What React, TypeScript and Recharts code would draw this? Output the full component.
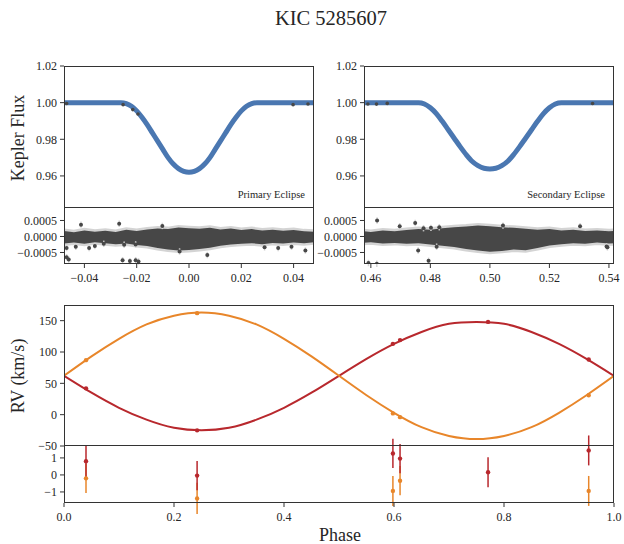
import React from 'react';
import { Area, ComposedChart, ErrorBar, Line, Scatter, XAxis, YAxis } from 'recharts';

const FONT = '"Liberation Serif", "DejaVu Serif", serif';
const INK = '#262626';
const BLUE = '#4a77b1';
const DARK = '#474747';
const HALO = '#d4d4d4';
const RED = '#b8282d';
const ORANGE = '#e8862a';

// primary eclipse model
const primaryPhase = [
  -0.048, -0.026, -0.024, -0.022, -0.02, -0.018, -0.016, -0.014, -0.012, -0.01, -0.008, -0.006, -0.004,
  -0.002, 0, 0.002, 0.004, 0.006, 0.008, 0.01, 0.012, 0.014, 0.016, 0.018, 0.02, 0.022, 0.024, 0.026, 0.048,
];
const primaryFlux = [
  1.0, 1.0, 0.9995, 0.998, 0.9955, 0.992, 0.988, 0.9835, 0.979, 0.9745, 0.97, 0.9665, 0.964, 0.9625, 0.962,
  0.9625, 0.964, 0.9665, 0.97, 0.9745, 0.979, 0.9835, 0.988, 0.992, 0.9955, 0.998, 0.9995, 1.0, 1.0,
];
const primaryObsPhase = [-0.0468, -0.0252, -0.0215, -0.0195, 0.0398, 0.0455];
const primaryObsFlux = [0.9995, 0.9989, 0.9962, 0.9938, 0.9989, 0.9993];

// secondary eclipse model
const secondaryPhase = [
  0.4576, 0.476, 0.478, 0.48, 0.482, 0.484, 0.486, 0.488, 0.49, 0.492, 0.494, 0.496, 0.498, 0.5, 0.502, 0.504,
  0.506, 0.508, 0.51, 0.512, 0.514, 0.516, 0.518, 0.52, 0.522, 0.524, 0.5417,
];
const secondaryFlux = [
  1.0, 1.0, 0.9993, 0.9972, 0.994, 0.9898, 0.9852, 0.9806, 0.976, 0.9717, 0.968, 0.9656, 0.9642, 0.9638, 0.9642,
  0.9656, 0.968, 0.9717, 0.976, 0.9806, 0.9852, 0.9898, 0.994, 0.9972, 0.9993, 1.0, 1.0,
];
const secondaryObsPhase = [0.459, 0.4619, 0.4655, 0.5345];
const secondaryObsFlux = [0.9993, 0.9992, 0.9996, 0.9995];

// residual band (bulk of the Kepler residuals)
const primaryBandPhase = [
  -0.048, -0.044, -0.04, -0.036, -0.032, -0.028, -0.024, -0.02, -0.016, -0.012, -0.008, -0.004, 0, 0.004, 0.008,
  0.012, 0.016, 0.02, 0.024, 0.028, 0.032, 0.036, 0.04, 0.044, 0.048,
];
const primaryBandHi = [
  0.00017, 0.00013, 0.00019, 0.00015, 0.00018, 0.00014, 0.00021, 0.00017, 0.00022, 0.00025, 0.00023, 0.00028,
  0.00026, 0.00024, 0.00027, 0.00022, 0.00025, 0.0002, 0.00023, 0.00019, 0.00021, 0.00018, 0.0002, 0.00016,
  0.00015,
];
const primaryBandLo = [
  -0.00022, -0.00019, -0.00023, -0.00018, -0.00021, -0.00024, -0.00022, -0.00027, -0.0003, -0.00036, -0.00041,
  -0.00044, -0.00042, -0.00039, -0.00035, -0.00029, -0.00025, -0.00023, -0.00021, -0.00024, -0.0002, -0.00022,
  -0.00019, -0.00021, -0.00018,
];
const secondaryBandPhase = [
  0.456, 0.46, 0.464, 0.468, 0.472, 0.476, 0.48, 0.484, 0.488, 0.492, 0.496, 0.5, 0.504, 0.508, 0.512, 0.516,
  0.52, 0.524, 0.528, 0.532, 0.536, 0.54, 0.544,
];
const secondaryBandHi = [
  0.00018, 0.00014, 0.00019, 0.00016, 0.0002, 0.00023, 0.00021, 0.00026, 0.00029, 0.00031, 0.00034, 0.00032,
  0.00029, 0.00027, 0.00024, 0.00021, 0.00023, 0.00019, 0.00021, 0.00017, 0.00019, 0.00016, 0.00018,
];
const secondaryBandLo = [
  -0.00021, -0.00018, -0.00022, -0.0002, -0.00023, -0.00021, -0.00025, -0.00029, -0.00033, -0.00039, -0.00044,
  -0.00048, -0.00045, -0.00041, -0.00043, -0.00036, -0.00028, -0.00024, -0.00021, -0.00023, -0.00019, -0.00022,
  -0.0002,
];

// residual outliers: [phase, residual, error]
const primaryOutliers = [
  [-0.0413, 0.00037, 0.0001], [-0.0267, 0.0004, 0.0001], [-0.0102, 0.00033, 0.0001], [-0.0468, -0.00036, 0.0001],
  [-0.046, -0.00072, 0.0001], [-0.0468, -0.00065, 0.0001], [-0.0433, -0.00032, 0.0001], [-0.0382, -0.00036, 0.0001],
  [-0.036, -0.0003, 0.0001], [-0.0326, -0.00023, 0.0001], [-0.0254, -0.00074, 0.0001], [-0.0248, -0.00026, 0.0001],
  [-0.0226, -0.00077, 0.0001], [-0.0204, -0.00074, 0.0001], [-0.0193, -0.00078, 0.0001], [-0.0204, -0.00025, 0.0001],
  [-0.0036, -0.00047, 0.0001], [0.007, -0.00058, 0.0001], [0.0289, -0.00034, 0.0001], [0.0341, -0.00036, 0.0001],
  [0.0392, -0.00032, 0.0001], [0.0445, -0.00044, 0.0001],
];
const secondaryOutliers = [
  [0.4621, 0.0005, 0.0001], [0.4697, 0.00032, 0.0001], [0.4749, 0.00042, 0.0001], [0.4777, 0.00026, 0.0001],
  [0.4802, 0.00027, 0.0001], [0.483, 0.00029, 0.0001], [0.4759, -0.00044, 0.0001], [0.4794, -0.00076, 0.0001],
  [0.4821, -0.00032, 0.0001], [0.4592, -0.00083, 0.0001], [0.462, -0.00085, 0.0001], [0.5044, 0.00034, 0.0001],
  [0.5303, 0.00032, 0.0001], [0.5395, -0.00034, 0.0001], [0.5392, -0.00031, 0.0001],
];

// radial velocity model curves
const rvPhase = [
  0, 0.05, 0.1, 0.15, 0.2, 0.25, 0.3, 0.35, 0.4, 0.45, 0.5, 0.55, 0.6, 0.65, 0.7, 0.75, 0.8, 0.85, 0.9, 0.95, 1.0,
];
const rvPrimaryModel = [62, 35, 11, -8, -21, -25, -21, -8, 11, 35, 62, 89, 113, 132, 145, 148, 145, 132, 113, 89, 62];
const rvSecondaryModel = [62, 93, 121, 144, 158, 163, 158, 144, 121, 93, 62, 31, 3, -20, -34, -39, -34, -20, 3, 31, 62];

// RV measurements
const rvPrimaryObsPhase = [0.04, 0.242, 0.598, 0.611, 0.771, 0.954];
const rvPrimaryObs = [42, -25, 113, 119, 148, 88];
const rvPrimaryRes = [0.8, -0.04, 1.26, 0.96, 0.16, 1.44];
const rvPrimaryErr = [0.9, 0.86, 0.86, 0.86, 0.88, 0.88];
const rvSecondaryObsPhase = [0.04, 0.242, 0.598, 0.611, 0.954];
const rvSecondaryObs = [87, 162, 2, -4, 31];
const rvSecondaryRes = [-0.2, -1.38, -0.94, -0.34, -0.94];
const rvSecondaryErr = [0.86, 0.92, 0.88, 0.86, 0.88];

const primaryModel = primaryPhase.map((phase, i) => ({ phase, flux: primaryFlux[i] }));
const primaryObs = primaryObsPhase.map((phase, i) => ({ phase, flux: primaryObsFlux[i] }));
const secondaryModel = secondaryPhase.map((phase, i) => ({ phase, flux: secondaryFlux[i] }));
const secondaryObs = secondaryObsPhase.map((phase, i) => ({ phase, flux: secondaryObsFlux[i] }));
const primaryBand = primaryBandPhase.map((phase, i) => ({ phase, band: [primaryBandLo[i], primaryBandHi[i]] }));
const secondaryBand = secondaryBandPhase.map((phase, i) => ({ phase, band: [secondaryBandLo[i], secondaryBandHi[i]] }));
const toPts = (rows: number[][]) => rows.map(([phase, res, err]) => ({ phase, res, err }));
const rvModel = rvPhase.map((phase, i) => ({ phase, p: rvPrimaryModel[i], s: rvSecondaryModel[i] }));
const rvP = rvPrimaryObsPhase.map((phase, i) => ({ phase, v: rvPrimaryObs[i], res: rvPrimaryRes[i], err: rvPrimaryErr[i] }));
const rvS = rvSecondaryObsPhase.map((phase, i) => ({ phase, v: rvSecondaryObs[i], res: rvSecondaryRes[i], err: rvSecondaryErr[i] }));

type Box = { x: number; y: number; w: number; h: number };
const Y_W = 64;
const TOP = 12;
const RIGHT = 8;
const BOTTOM = 10;

const tickStyle = { fill: INK, fontSize: 12, fontFamily: FONT };
const signed = (d: number) => (v: number) => (v < 0 ? '\u2212' : '') + Math.abs(v).toFixed(d);

const dot = (color: string, r: number) => (p: any) => <circle cx={p.cx} cy={p.cy} r={r} fill={color} />;

// each panel is its own chart, placed so that its plot area sits on `box`
function Panel({ box, xH = 0, children }: { box: Box; xH?: number; children: React.ReactNode }) {
  return (
    <div style={{ position: 'absolute', left: box.x - Y_W, top: box.y - TOP }}>
      <ComposedChart
        width={Y_W + box.w + RIGHT}
        height={TOP + box.h + xH + BOTTOM}
        margin={{ top: TOP, right: RIGHT, left: 0, bottom: BOTTOM }}
      >
        {children}
      </ComposedChart>
    </div>
  );
}

function Border({ box, noTop }: { box: Box; noTop?: boolean }) {
  return (
    <div
      style={{
        position: 'absolute',
        left: box.x,
        top: box.y,
        width: box.w,
        height: box.h,
        boxSizing: 'border-box',
        border: '1px solid #333',
        borderTop: noTop ? 'none' : '1px solid #333',
      }}
    />
  );
}

const P1 = { x: 64, y: 66, w: 250, h: 142 };
const P1R = { x: 64, y: 208, w: 250, h: 56 };
const P2 = { x: 364, y: 66, w: 250, h: 142 };
const P2R = { x: 364, y: 208, w: 250, h: 56 };
const RV = { x: 64, y: 305, w: 550, h: 141 };
const RVR = { x: 64, y: 446, w: 550, h: 57 };

const axisProps = {
  tickSize: 4,
  axisLine: false,
  tickLine: { stroke: '#333' },
  tick: tickStyle,
  allowDataOverflow: true,
  interval: 0 as const,
};

function fluxPanel(box: Box, xDomain: number[], model: any[], obs: any[]) {
  return (
    <Panel box={box}>
      <XAxis type="number" dataKey="phase" domain={xDomain} hide allowDataOverflow />
      <YAxis
        type="number"
        width={Y_W}
        domain={[0.9425, 1.02]}
        ticks={[0.96, 0.98, 1.0, 1.02]}
        tickFormatter={(v: number) => v.toFixed(2)}
        tickMargin={3}
        {...axisProps}
      />
      <Scatter data={obs} dataKey="flux" fill={DARK} shape={dot(DARK, 1.8)} isAnimationActive={false} />
      <Line data={model} dataKey="flux" type="monotone" stroke={BLUE} strokeWidth={5} dot={false} isAnimationActive={false} />
    </Panel>
  );
}

function residPanel(box: Box, xDomain: number[], xTicks: number[], band: any[], outliers: any[]) {
  return (
    <Panel box={box} xH={30}>
      <XAxis
        type="number"
        dataKey="phase"
        domain={xDomain}
        ticks={xTicks}
        tickFormatter={signed(2)}
        height={30}
        tickMargin={5}
        {...axisProps}
      />
      <YAxis
        type="number"
        width={Y_W}
        domain={[-0.00086, 0.00089]}
        ticks={[-0.0005, 0, 0.0005]}
        tickFormatter={signed(4)}
        tickMargin={3}
        {...axisProps}
      />
      <Area data={band} dataKey="band" type="linear" stroke={HALO} strokeWidth={5} fill={HALO} isAnimationActive={false} />
      <Area data={band} dataKey="band" type="linear" stroke="none" fill={DARK} fillOpacity={1} isAnimationActive={false} />
      <Scatter data={outliers} dataKey="res" fill={DARK} shape={dot(DARK, 2)} isAnimationActive={false}>
        <ErrorBar dataKey="err" direction="y" width={0} stroke={HALO} strokeWidth={1.5} />
      </Scatter>
    </Panel>
  );
}

export default function App() {
  return (
    <div style={{ position: 'absolute', left: 0, top: 0, width: 624, height: 544, overflow: 'hidden', background: '#fff' }}>
      {fluxPanel(P1, [-0.0478, 0.0478], primaryModel, primaryObs)}
      {fluxPanel(P2, [0.4577, 0.5417], secondaryModel, secondaryObs)}
      {residPanel(P1R, [-0.0478, 0.0478], [-0.04, -0.02, 0, 0.02, 0.04], primaryBand, toPts(primaryOutliers))}
      {residPanel(P2R, [0.4577, 0.5417], [0.46, 0.48, 0.5, 0.52, 0.54], secondaryBand, toPts(secondaryOutliers))}

      <Panel box={RVR} xH={32}>
        <XAxis
          type="number"
          dataKey="phase"
          domain={[0, 1]}
          ticks={[0, 0.2, 0.4, 0.6, 0.8, 1.0]}
          tickFormatter={(v: number) => v.toFixed(1)}
          height={32}
          tickMargin={5}
          {...axisProps}
        />
        <YAxis
          type="number"
          width={Y_W}
          domain={[-1.65, 1.7]}
          ticks={[-1, 0, 1]}
          tickFormatter={signed(0)}
          tickMargin={3}
          {...axisProps}
        />
        <Scatter data={rvS} dataKey="res" fill={ORANGE} shape={dot(ORANGE, 2.2)} isAnimationActive={false}>
          <ErrorBar dataKey="err" direction="y" width={0} stroke={ORANGE} strokeWidth={1.5} />
        </Scatter>
        <Scatter data={rvP} dataKey="res" fill={RED} shape={dot(RED, 2.2)} isAnimationActive={false}>
          <ErrorBar dataKey="err" direction="y" width={0} stroke={RED} strokeWidth={1.5} />
        </Scatter>
      </Panel>

      <Panel box={RV}>
        <XAxis type="number" dataKey="phase" domain={[0, 1]} hide allowDataOverflow />
        <YAxis
          type="number"
          width={Y_W}
          domain={[-50, 175]}
          ticks={[-50, 0, 50, 100, 150]}
          tickFormatter={signed(0)}
          tickMargin={3}
          {...axisProps}
        />
        <Line data={rvModel} dataKey="p" type="natural" stroke={RED} strokeWidth={2} dot={false} isAnimationActive={false} />
        <Line data={rvModel} dataKey="s" type="natural" stroke={ORANGE} strokeWidth={2} dot={false} isAnimationActive={false} />
        <Scatter data={rvP} dataKey="v" fill={RED} shape={dot(RED, 2.2)} isAnimationActive={false} />
        <Scatter data={rvS} dataKey="v" fill={ORANGE} shape={dot(ORANGE, 2.2)} isAnimationActive={false} />
      </Panel>

      <Border box={P1} />
      <Border box={P1R} noTop />
      <Border box={P2} />
      <Border box={P2R} noTop />
      <Border box={RV} />
      <Border box={RVR} noTop />

      <svg width={624} height={544} style={{ position: 'absolute', left: 0, top: 0, pointerEvents: 'none' }} fontFamily={FONT}>
        <text x={331} y={25} textAnchor="middle" fontSize={20.5} fill={INK}>KIC 5285607</text>
        <text x={305} y={198} textAnchor="end" fontSize={10.5} fill={INK}>Primary Eclipse</text>
        <text x={605} y={198} textAnchor="end" fontSize={10.5} fill={INK}>Secondary Eclipse</text>
        <text transform="translate(24 138) rotate(-90)" textAnchor="middle" fontSize={18} fill={INK}>Kepler Flux</text>
        <text transform="translate(24 376) rotate(-90)" textAnchor="middle" fontSize={18} fill={INK}>RV (km/s)</text>
        <text x={340} y={541} textAnchor="middle" fontSize={18} fill={INK}>Phase</text>
      </svg>
    </div>
  );
}
